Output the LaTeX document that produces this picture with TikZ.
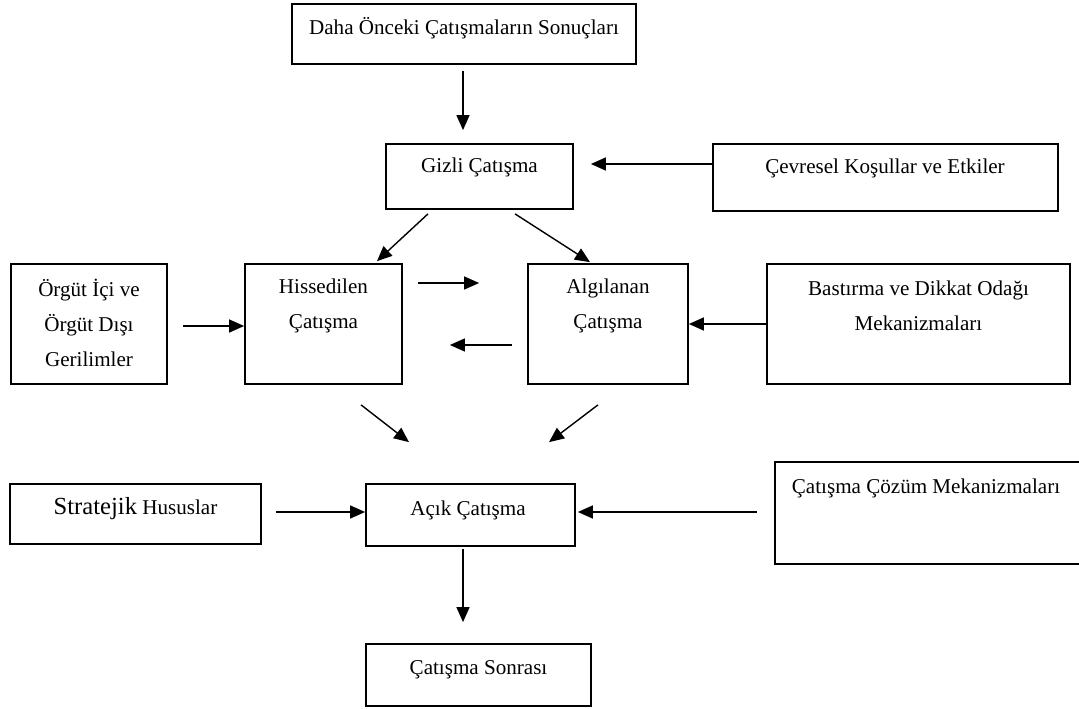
\documentclass[tikz,border=0pt]{standalone}
\usepackage{fontspec}
\setmainfont{Liberation Serif}
\usetikzlibrary{arrows.meta,positioning,calc}

\begin{document}
\begin{tikzpicture}[x=0.02cm, y=-0.02cm,
    box/.style={draw, line width=1pt, inner sep=0pt},
    txt/.style={font=\fontsize{12}{20}\selectfont, align=center, inner sep=0pt},
    arr/.style={-{Triangle[length=0.3cm, width=0.26cm]}, line width=0.8pt}]
\useasboundingbox (0,0) rectangle (1079,709);

            % Boxes
            \node[box, minimum width=6.88cm, minimum height=1.2cm] (daha) at (464,34) {};
            \node[txt] (daha-t) at (464,28) {Daha Önceki Çatışmaların Sonuçları};

            \node[box, minimum width=3.74cm, minimum height=1.3cm] (gizli) at (479.5,176.5) {};
            \node[txt] (gizli-t) at (479.5,167) {Gizli Çatışma};

            \node[box, minimum width=6.9cm, minimum height=1.34cm] (cevre) at (885.5,177.5) {};
            \node[txt] (cevre-t) at (885,168) {Çevresel Koşullar ve Etkiler};

            \node[box, minimum width=3.12cm, minimum height=2.4cm] (orgut) at (89,324) {};
            \node[txt] (orgut-t) at (89,323) {Örgüt İçi ve\\Örgüt Dışı\\Gerilimler};

            \node[box, minimum width=3.14cm, minimum height=2.4cm] (hiss) at (323.5,324) {};
            \node[txt] (hiss-t) at (323.5,306) {Hissedilen\\Çatışma};

            \node[box, minimum width=3.2cm, minimum height=2.4cm] (alg) at (608,324) {};
            \node[txt] (alg-t) at (608,306) {Algılanan\\Çatışma};

            \node[box, minimum width=6.06cm, minimum height=2.4cm] (bast) at (918.5,324) {};
            \node[txt] (bast-t) at (918.5,306) {Bastırma ve Dikkat Odağı\\Mekanizmaları};

            \node[box, minimum width=5.02cm, minimum height=1.2cm] (strat) at (135.5,514) {};
            \node[txt] (strat-t) at (135.5,509) {{\fontsize{14}{20}\selectfont Stratejik} Hususlar};

            \node[box, minimum width=4.18cm, minimum height=1.24cm] (acik) at (470.5,515) {};
            \node[txt] (acik-t) at (468,510) {Açık Çatışma};

            \node[box, minimum width=6.3cm, minimum height=2.04cm] (cozum) at (932.5,513) {};
            \node[txt] (cozum-t) at (926,488) {Çatışma Çözüm Mekanizmaları};

            \node[box, minimum width=4.5cm, minimum height=1.24cm] (sonra) at (478.5,675) {};
            \node[txt] (sonra-t) at (478.5,670) {Çatışma Sonrası};

            % Arrows
            \draw[arr] ($(daha.south)+(-1,6)$) -- ($(gizli.north)+(-16.5,-13)$);
            \draw[arr] ($(cevre.west)+(0,-13.5)$) -- ($(gizli.east)+(17,-12.5)$);
            \draw[arr] ($(gizli.south)+(-51.5,4)$) -- ($(hiss.north)+(53.5,-2)$);
            \draw[arr] ($(gizli.south)+(35.5,4)$) -- ($(alg.north)+(-18,-1)$);
            \draw[arr] ($(orgut.east)+(15,2)$) -- ($(hiss.west)+(0,2)$);
            \draw[arr] ($(hiss.east)+(15,-41)$) -- ($(alg.west)+(-48,-41)$);
            \draw[arr] ($(alg.west)+(-15,21)$) -- ($(hiss.east)+(47,21)$);
            \draw[arr] (bast.west) -- (alg.east);
            \draw[arr] ($(hiss.south)+(37.5,20)$) -- ($(acik.north)+(-61.5,-41)$);
            \draw[arr] ($(alg.south)+(-10,20)$) -- ($(acik.north)+(78.5,-41)$);
            \draw[arr] ($(strat.east)+(14,-2)$) -- ($(acik.west)+(0,-3)$);
            \draw[arr] ($(cozum.west)+(-17,-1)$) -- ($(acik.east)+(2,-3)$);
            \draw[arr] ($(acik.south)+(-7.5,2)$) -- ($(sonra.north)+(-15.5,-21)$);
\end{tikzpicture}
\end{document}
